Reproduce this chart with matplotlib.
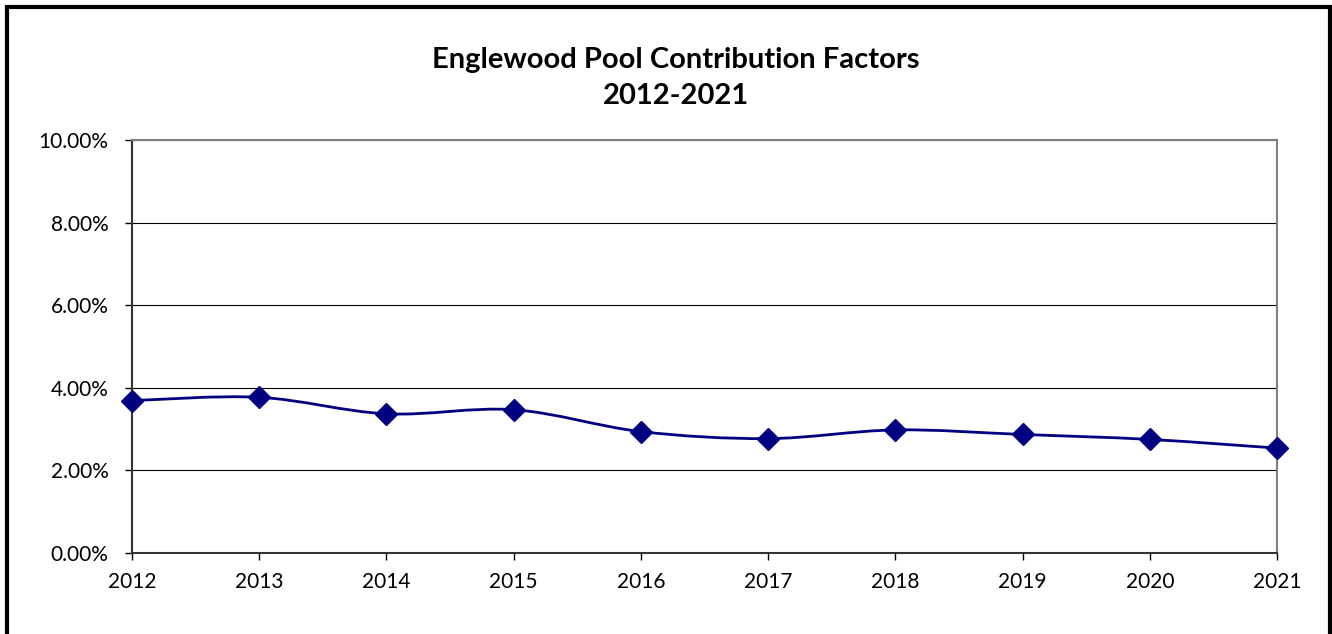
import numpy as np
import matplotlib
matplotlib.use("Agg")
import matplotlib.pyplot as plt
from matplotlib.path import Path
from matplotlib.patches import PathPatch, Rectangle
from matplotlib.ticker import PercentFormatter

# ---------------------------------------------------------------------------
# Data
# ---------------------------------------------------------------------------
years = [2012, 2013, 2014, 2015, 2016, 2017, 2018, 2019, 2020, 2021]
factors = [3.69, 3.77, 3.37, 3.47, 2.94, 2.77, 2.98, 2.87, 2.75, 2.54]  # percent

title = "Englewood Pool Contribution Factors\n2012-2021"
yticks = [0, 2, 4, 6, 8, 10]

plt.rcParams["font.family"] = ["Lato", "DejaVu Sans"]

NAVY = "#000080"


def smooth_path(x, y, tension=1.0 / 6.0):
    """Excel-like smoothed line: Catmull-Rom through points as cubic Beziers."""
    x = np.asarray(x, float)
    y = np.asarray(y, float)
    pts = np.column_stack([x, y])
    verts = [pts[0]]
    codes = [Path.MOVETO]
    n = len(pts)
    for i in range(n - 1):
        p0 = pts[i - 1] if i > 0 else pts[i]
        p1 = pts[i]
        p2 = pts[i + 1]
        p3 = pts[i + 2] if i + 2 < n else pts[i + 1]
        c1 = p1 + (p2 - p0) * tension
        c2 = p2 - (p3 - p1) * tension
        verts += [c1, c2, p2]
        codes += [Path.CURVE4] * 3
    return Path(verts, codes)


fig = plt.figure(figsize=(13.32, 6.34), dpi=100)
ax = fig.add_axes([132 / 1332, 1 - 553 / 634, (1277 - 132) / 1332, (553 - 140) / 634])

ax.add_patch(PathPatch(smooth_path(years, factors), facecolor="none",
                       edgecolor=NAVY, lw=2.0, zorder=3))
ax.plot(years, factors, linestyle="none", marker="D", markersize=11,
        color=NAVY, zorder=4, clip_on=False)

ax.set_xlim(years[0], years[-1])
ax.set_ylim(0, 10)
ax.set_xticks(years)
ax.set_yticks(yticks)
ax.yaxis.set_major_formatter(PercentFormatter(decimals=2))
ax.tick_params(axis="both", labelsize=15, length=5, width=1, color="black",
               direction="out")
ax.tick_params(axis="x", pad=9)
ax.tick_params(axis="y", pad=12)

ax.grid(axis="y", color="black", lw=0.8)
ax.set_axisbelow(True)
for side in ["top", "right"]:
    ax.spines[side].set_color("#808080")
    ax.spines[side].set_linewidth(1.5)
for side in ["left", "bottom"]:
    ax.spines[side].set_color("#333333")
    ax.spines[side].set_linewidth(1.5)

fig.text(676 / 1332, 1 - 78 / 634, title, ha="center", va="center",
         fontsize=21, fontweight="bold", linespacing=1.45)

# outer chart frame (bottom edge falls off the image)
fig.add_artist(Rectangle((6.5 / 1332, -0.1), (1330 - 6.5) / 1332, 1.1 - 7.5 / 634,
                         transform=fig.transFigure, fill=False,
                         edgecolor="black", lw=3))

fig.savefig("out.png", dpi=100)
